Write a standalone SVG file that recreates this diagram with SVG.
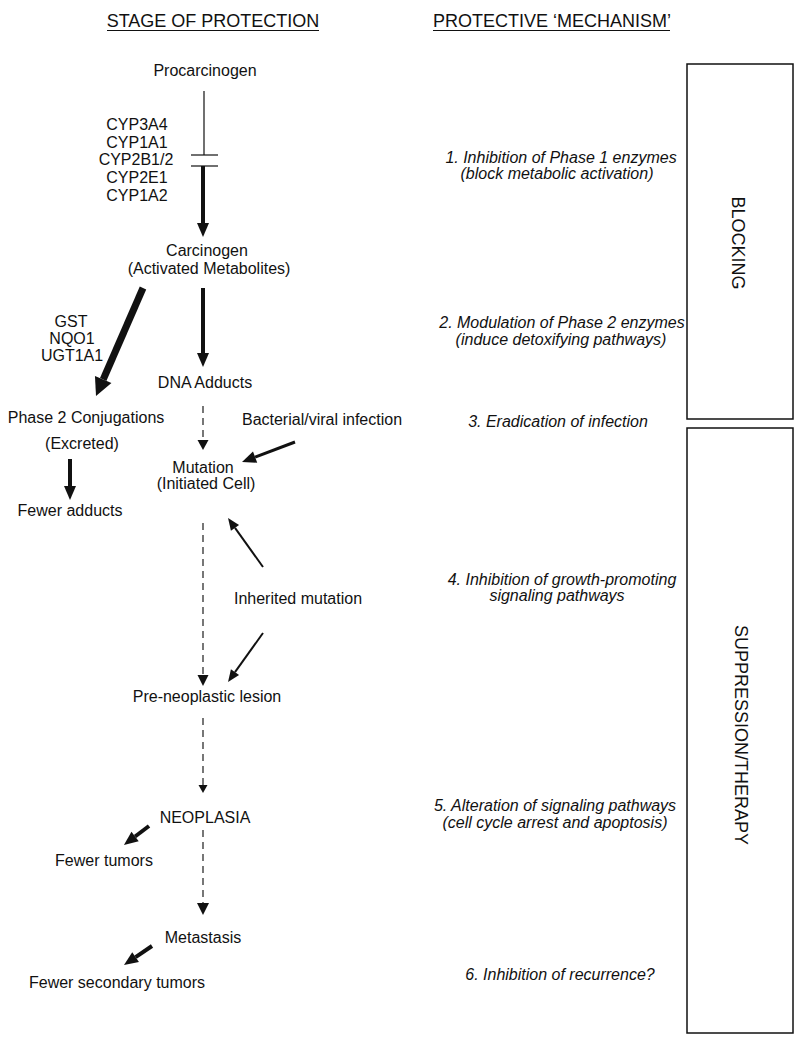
<svg xmlns="http://www.w3.org/2000/svg" width="800" height="1043" viewBox="0 0 800 1043">
<style>
text{font-family:"Liberation Sans",Arial,sans-serif;font-size:16px;fill:#111;text-anchor:middle}
.h{font-size:18px}
.it{font-style:italic}
.v{font-size:18px;dominant-baseline:central}
.box{fill:none;stroke:#111;stroke-width:1.5}
.ln{stroke:#111;fill:none}
.dash{stroke:#555;stroke-width:1.6;stroke-dasharray:7 5;fill:none}
</style>
<defs>
<marker id="aBig" markerUnits="userSpaceOnUse" markerWidth="18" markerHeight="18" refX="0" refY="9" orient="auto" overflow="visible"><path d="M0,0 L18,9 L0,18 z" fill="#111"/></marker>
<marker id="aMed" markerUnits="userSpaceOnUse" markerWidth="14" markerHeight="12" refX="0" refY="6" orient="auto" overflow="visible"><path d="M0,0 L14,6 L0,12 z" fill="#111"/></marker>
<marker id="aTh" markerUnits="userSpaceOnUse" markerWidth="12" markerHeight="10" refX="0" refY="5" orient="auto" overflow="visible"><path d="M0,0 L12,5 L0,10 z" fill="#111"/></marker>
</defs>
<g id="headers">
<text class="h" x="213" y="27">STAGE OF PROTECTION</text>
<line class="ln" x1="107" y1="30.5" x2="319" y2="30.5" stroke-width="1.2"/>
<text class="h" x="552" y="27">PROTECTIVE ‘MECHANISM’</text>
<line class="ln" x1="433" y1="30.5" x2="670" y2="30.5" stroke-width="1.2"/>
</g>
<g id="connectors">
<line class="ln" x1="204" y1="91" x2="204" y2="155" stroke-width="1.2"/>
<line class="ln" x1="191" y1="155" x2="218" y2="155" stroke-width="1.2"/>
<line class="ln" x1="191" y1="166" x2="218" y2="166" stroke-width="1.2"/>
<line class="ln" x1="203" y1="166" x2="203" y2="223" stroke-width="4" marker-end="url(#aMed)"/>
<line class="ln" x1="203" y1="288" x2="203" y2="353" stroke-width="4" marker-end="url(#aMed)"/>
<line class="ln" x1="143" y1="288" x2="103.2" y2="379.5" stroke-width="7" marker-end="url(#aBig)"/>
<line class="ln" x1="70" y1="459" x2="70" y2="486" stroke-width="4" marker-end="url(#aMed)"/>
<line class="dash" x1="203" y1="406" x2="203" y2="442"/>
<path d="M197.5,440 L208.5,440 L203,450 z" fill="#111"/>
<line class="ln" x1="295" y1="442" x2="255.1" y2="457.1" stroke-width="3" marker-end="url(#aMed)"/>
<line class="dash" x1="203" y1="523" x2="203" y2="678"/>
<path d="M197.5,675 L208.5,675 L203,686 z" fill="#111"/>
<line class="ln" x1="263" y1="567" x2="235" y2="527.8" stroke-width="2" marker-end="url(#aTh)"/>
<line class="ln" x1="263" y1="633" x2="235" y2="672.2" stroke-width="2" marker-end="url(#aTh)"/>
<line class="dash" x1="203" y1="718" x2="203" y2="786"/>
<path d="M198.5,785 L207.5,785 L203,793 z" fill="#111"/>
<line class="dash" x1="203" y1="830" x2="203" y2="905"/>
<path d="M197,903 L209,903 L203,915 z" fill="#111"/>
<line class="ln" x1="149" y1="826" x2="135.1" y2="836.5" stroke-width="4" marker-end="url(#aMed)"/>
<line class="ln" x1="152" y1="946" x2="135.6" y2="957.1" stroke-width="4" marker-end="url(#aMed)"/>
</g>
<g id="procarcinogen"><text x="205" y="76">Procarcinogen</text></g>
<g id="cyp">
<text x="137" y="130">CYP3A4</text>
<text x="137" y="148">CYP1A1</text>
<text x="136" y="165">CYP2B1/2</text>
<text x="137" y="183">CYP2E1</text>
<text x="137" y="201">CYP1A2</text>
</g>
<g id="carcinogen"><text x="207" y="256">Carcinogen</text><text x="209" y="274">(Activated Metabolites)</text></g>
<g id="phase2enz"><text x="71" y="327">GST</text><text x="72" y="344">NQO1</text><text x="72" y="361">UGT1A1</text></g>
<g id="dna-adducts"><text x="205" y="388">DNA Adducts</text></g>
<g id="phase2-conj"><text x="86" y="423">Phase 2 Conjugations</text><text x="82" y="449">(Excreted)</text></g>
<g id="fewer-adducts"><text x="70" y="516">Fewer adducts</text></g>
<g id="infection"><text x="322" y="425">Bacterial/viral infection</text></g>
<g id="mutation"><text x="203" y="473">Mutation</text><text x="206" y="489">(Initiated Cell)</text></g>
<g id="inherited"><text x="298" y="604">Inherited mutation</text></g>
<g id="preneoplastic"><text x="207" y="702">Pre-neoplastic lesion</text></g>
<g id="neoplasia"><text x="205" y="823">NEOPLASIA</text></g>
<g id="fewer-tumors"><text x="104" y="866">Fewer tumors</text></g>
<g id="metastasis"><text x="203" y="943">Metastasis</text></g>
<g id="fewer-secondary"><text x="117" y="988">Fewer secondary tumors</text></g>
<g id="mechanisms">
<text class="it" x="561" y="163">1. Inhibition of Phase 1 enzymes</text>
<text class="it" x="557" y="179">(block metabolic activation)</text>
<text class="it" x="562" y="328">2. Modulation of Phase 2 enzymes</text>
<text class="it" x="561" y="345">(induce detoxifying pathways)</text>
<text class="it" x="558" y="427">3. Eradication of infection</text>
<text class="it" x="562" y="585">4. Inhibition of growth-promoting</text>
<text class="it" x="557" y="601">signaling pathways</text>
<text class="it" x="555" y="811">5. Alteration of signaling pathways</text>
<text class="it" x="555" y="828">(cell cycle arrest and apoptosis)</text>
<text class="it" x="560" y="980">6. Inhibition of recurrence?</text>
</g>
<g id="blocking">
<rect class="box" x="687" y="64" width="106" height="355"/>
<text class="v" transform="translate(738,243) rotate(90)" x="0" y="0">BLOCKING</text>
</g>
<g id="suppression">
<rect class="box" x="687" y="428" width="106" height="605"/>
<text class="v" transform="translate(741,735) rotate(90)" x="0" y="0">SUPPRESSION/THERAPY</text>
</g>
</svg>
